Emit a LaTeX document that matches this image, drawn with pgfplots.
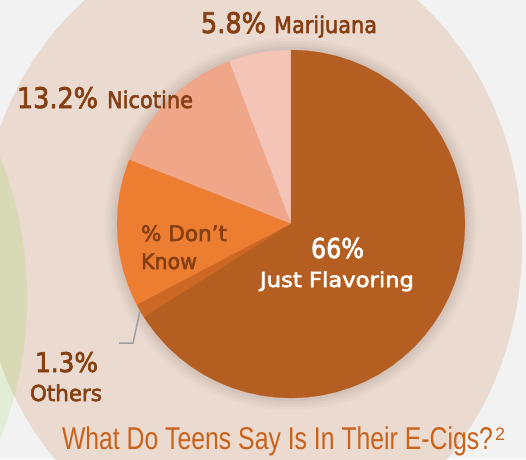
\documentclass[border=0pt]{standalone}
\usepackage{pgfplots}
\pgfplotsset{compat=1.18}
\usepackage{graphicx}
\usepackage{fontspec}
\setmainfont{DejaVu Sans}
\newfontfamily\lab[FakeBold=2.5]{DejaVu Sans}
\newfontfamily\tit{Liberation Sans}
\definecolor{bggray}{HTML}{F2F2F2}
\definecolor{peach}{HTML}{EBDACF}
\definecolor{lgreen}{HTML}{E2EDD6}
\definecolor{ogreen}{HTML}{D8D9B5}
\definecolor{cJF}{HTML}{B45E21}
\definecolor{cOT}{HTML}{CC6824}
\definecolor{cDK}{HTML}{ED7D31}
\definecolor{cNI}{HTML}{F0A688}
\definecolor{cMA}{HTML}{F4C5B6}
\definecolor{lblbrown}{HTML}{853F12}
\definecolor{titorange}{HTML}{C9621B}
\newcommand\lbl[3]{\resizebox{#1pt}{\height}{\fontsize{#2}{#2}\lab #3}}
\begin{document}
\begin{tikzpicture}
\begin{axis}[
  at={(0,0)}, anchor=south west,
  scale only axis, width=526pt, height=459pt,
  xmin=-291, xmax=235, ymin=-235, ymax=224,
  hide axis, clip=true,
]
% background
\fill[bggray] (axis cs:-291,-235) rectangle (axis cs:235,224);
\fill[lgreen] (axis cs:-646,-74) circle[radius=382];
\fill[peach] (axis cs:-40,-21) ellipse[x radius=271, y radius=310];
\begin{scope}
\clip (axis cs:-40,-21) ellipse[x radius=271, y radius=310];
\fill[ogreen] (axis cs:-646,-74) circle[radius=382];
\end{scope}
% soft shadow around the pie
\fill[black, opacity=0.018] (axis cs:0,0) circle[radius=186];
\fill[black, opacity=0.022] (axis cs:0,0) circle[radius=183];
\fill[black, opacity=0.026] (axis cs:0,0) circle[radius=180];
\fill[black, opacity=0.03] (axis cs:0,0) circle[radius=177];
% pie: 66% Just Flavoring, 1.3% Others, 13.7% Don't Know, 13.2% Nicotine, 5.8% Marijuana
% sectors given as (angle in degrees, radius) in polar data coordinates
\addplot[fill=cMA, draw=cMA, line width=0.2pt, mark=none, data cs=polar] coordinates {
(0,0) (90,174) (95,174) (100,174) (105,174) (110,174) (110.88,174) (0,0)};
\addplot[fill=cNI, draw=cNI, line width=0.2pt, mark=none, data cs=polar] coordinates {
(0,0) (110.88,174) (115,174) (120,174) (125,174) (130,174) (135,174) (140,174) (145,174) (150,174) (155,174) (158.4,174) (0,0)};
\addplot[fill=cDK, draw=cDK, line width=0.2pt, mark=none, data cs=polar] coordinates {
(0,0) (158.4,174) (160,174) (165,174) (170,174) (175,174) (180,174) (185,174) (190,174) (195,174) (200,174) (205,174) (207.72,174) (0,0)};
\addplot[fill=cOT, draw=cOT, line width=0.2pt, mark=none, data cs=polar] coordinates {
(0,0) (207.72,174) (210,174) (212.4,174) (0,0)};
\addplot[fill=cJF, draw=cJF, line width=0.2pt, mark=none, data cs=polar] coordinates {
(0,0) (212.4,174) (215,174) (220,174) (225,174) (230,174) (235,174) (240,174) (245,174) (250,174) (255,174) (260,174) (265,174) (270,174) (275,174) (280,174) (285,174) (290,174) (295,174) (300,174) (305,174) (310,174) (315,174) (320,174) (325,174) (330,174) (335,174) (340,174) (345,174) (350,174) (355,174) (360,174) (365,174) (370,174) (375,174) (380,174) (385,174) (390,174) (395,174) (400,174) (405,174) (410,174) (415,174) (420,174) (425,174) (430,174) (435,174) (440,174) (445,174) (450,174) (0,0)};
% leader line for Others
\draw[color={rgb,255:red,160;green,160;blue,160}, line width=1.5pt] (axis cs:-151,-87) -- (axis cs:-158,-119) -- (axis cs:-172,-119);
% labels
\node[anchor=base west, inner sep=0, outer sep=0, text=lblbrown] at (axis cs:-90,191) {\lbl{65}{28.4}{5.8\%}};
\node[anchor=base west, inner sep=0, outer sep=0, text=lblbrown] at (axis cs:-17,191) {\lbl{103}{22.9}{Marijuana}};
\node[anchor=base west, inner sep=0, outer sep=0, text=lblbrown] at (axis cs:-274,116) {\lbl{81}{28.4}{13.2\%}};
\node[anchor=base west, inner sep=0, outer sep=0, text=lblbrown] at (axis cs:-184,116) {\lbl{86}{22.9}{Nicotine}};
\node[anchor=base west, inner sep=0, outer sep=0, text=lblbrown] at (axis cs:-150,-17) {\lbl{86}{21.5}{\% Don’t}};
\node[anchor=base west, inner sep=0, outer sep=0, text=lblbrown] at (axis cs:-150,-45) {\lbl{56}{21.5}{Know}};
\node[anchor=base west, inner sep=0, outer sep=0, text=white] at (axis cs:20,-34) {\lbl{53}{27.4}{66\%}};
\node[anchor=base west, inner sep=0, outer sep=0, text=white] at (axis cs:-31,-63) {\lbl{154}{20.6}{Just Flavoring}};
\node[anchor=base west, inner sep=0, outer sep=0, text=lblbrown] at (axis cs:-256,-148) {\lbl{63}{27}{1.3\%}};
\node[anchor=base west, inner sep=0, outer sep=0, text=lblbrown] at (axis cs:-261,-177) {\lbl{72}{22}{Others}};
% title
\node[anchor=base west, inner sep=0, outer sep=0, text=titorange] at (axis cs:-229,-225) {\resizebox{431pt}{\height}{\fontsize{31.5}{31.5}\tit What Do Teens Say Is In Their E-Cigs?}};
\node[anchor=base west, inner sep=0, outer sep=0, text=titorange] at (axis cs:204,-216) {\fontsize{18}{18}\tit 2};
\end{axis}
\pgfresetboundingbox
\useasboundingbox (0,0) rectangle (526pt,459pt);
\end{tikzpicture}
\end{document}
